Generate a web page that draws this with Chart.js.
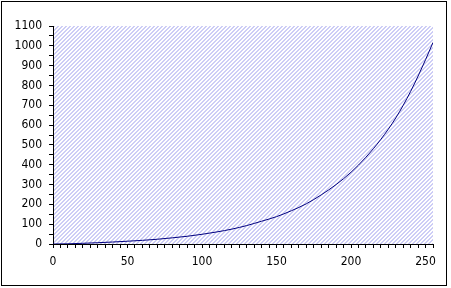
<!DOCTYPE html>
<html>
<head>
<meta charset="utf-8">
<script src="https://cdn.jsdelivr.net/npm/chart.js@4/dist/chart.umd.min.js"></script>
<style>
  html, body { margin: 0; padding: 0; background: #fff; }
  #wrap { position: relative; width: 451px; height: 288px; }
  canvas { display: block; }
</style>
</head>
<body>
<div id="wrap"><canvas id="c" width="451" height="288"></canvas></div>
<script>
// Data
const xValues = [0, 10, 20, 30, 40, 50, 60, 70, 80, 90, 100, 110, 120, 130, 140, 150, 160, 170, 180, 190, 200, 210, 220, 230, 240, 250, 255];
const yValues = [0, 1, 3.5, 6.5, 10, 14, 18.5, 24, 31, 39, 49, 61, 75, 93, 115, 138, 168, 203, 248, 300, 362, 438, 528, 636, 770, 930, 1017];
const xTickLabels = [0, 50, 100, 150, 200, 250];
const yTickLabels = [0, 100, 200, 300, 400, 500, 600, 700, 800, 900, 1000, 1100];

function makeHatch(ctx) {
  const p = document.createElement('canvas');
  p.width = 4; p.height = 4;
  const g = p.getContext('2d');
  g.fillStyle = '#ffffff';
  g.fillRect(0, 0, 4, 4);
  g.fillStyle = '#cdcdf6';
  for (let r = 0; r < 4; r++) {
    for (let k = 0; k < 2; k++) {
      const c = (3 - r + k + 4) % 4;
      g.fillRect(c, r, 1, 1);
    }
  }
  return ctx.createPattern(p, 'repeat');
}

const bgPlugin = {
  id: 'bg',
  beforeDraw(chart) {
    const ctx = chart.ctx;
    const a = chart.chartArea;
    ctx.save();
    ctx.fillStyle = '#ffffff';
    ctx.fillRect(0, 0, chart.width, chart.height);
    ctx.fillStyle = makeHatch(ctx);
    ctx.fillRect(a.left, a.top, a.right - a.left, a.bottom - a.top);
    ctx.strokeStyle = '#000000';
    ctx.lineWidth = 1;
    ctx.strokeRect(1.5, 1.5, 445, 284);
    ctx.restore();
  }
};

const points = xValues.map((x, i) => ({ x: x, y: yValues[i] }));
const tickFont = { family: '"Liberation Sans Narrow", "DejaVu Sans Condensed", sans-serif', size: 12 };

new Chart(document.getElementById('c'), {
  type: 'line',
  data: {
    datasets: [{
      data: points,
      borderColor: '#000080',
      borderWidth: 1,
      pointRadius: 0,
      cubicInterpolationMode: 'monotone',
      fill: false
    }]
  },
  options: {
    responsive: false,
    animation: false,
    events: [],
    layout: { padding: { left: 0, top: 26, right: 18, bottom: 0 } },
    plugins: { legend: { display: false }, tooltip: { enabled: false } },
    scales: {
      x: {
        type: 'linear',
        min: 0,
        max: 255,
        ticks: {
          stepSize: 5,
          autoSkip: false,
          maxRotation: 0,
          padding: 7,
          color: '#000',
          font: tickFont,
          callback: (v) => xTickLabels.includes(v) ? String(v) : ''
        },
        grid: { drawOnChartArea: false, drawTicks: true, tickLength: 4, color: '#000' },
        border: { display: true, color: '#000', width: 1 },
        afterFit: (s) => { s.height = 44; }
      },
      y: {
        min: 0,
        max: 1100,
        ticks: {
          stepSize: 50,
          autoSkip: false,
          padding: 7,
          color: '#000',
          font: tickFont,
          callback: (v) => yTickLabels.includes(v) ? String(v) : ''
        },
        grid: { drawOnChartArea: false, drawTicks: true, tickLength: 4, color: '#000' },
        border: { display: true, color: '#000', width: 1 },
        afterFit: (s) => { s.width = 53; }
      }
    }
  },
  plugins: [bgPlugin]
});
</script>
</body>
</html>
